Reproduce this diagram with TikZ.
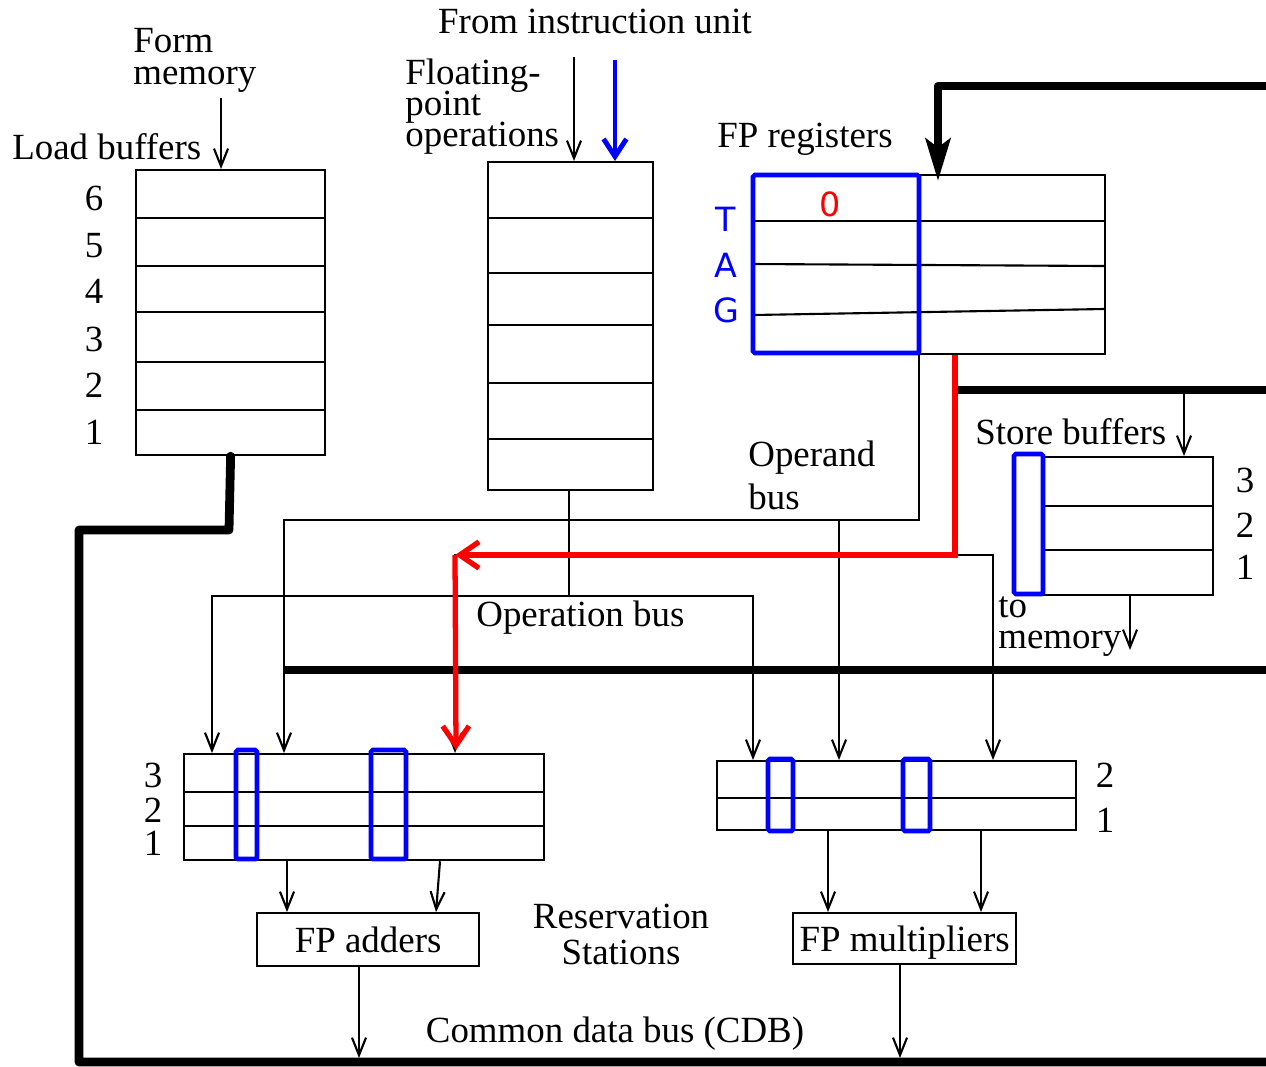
\documentclass[tikz,border=0pt]{standalone}
\usepackage{fontspec}
\setmainfont{Liberation Serif}
\newfontfamily\tagfont{DejaVu Sans}
\usetikzlibrary{arrows.meta}
\begin{document}
\begin{tikzpicture}[x=0.02cm,y=-0.02cm,
  lbl/.style={font=\fontsize{21}{21}\selectfont, inner sep=0pt},
  nodep/.style={text depth=0pt},
  tagl/.style={font=\tagfont\fontsize{19}{19}\selectfont, inner sep=0pt, text=blue},
  thinl/.style={line width=1.2pt},
  boxl/.style={draw, line width=1.3pt, inner sep=0pt, anchor=north west},
  busl/.style={line width=5pt, line join=round},
  arr/.style={thinl, -{Straight Barb[length=10pt,width=8pt]}},
  tagbox/.style={draw=blue, line width=2.6pt, rounded corners=1pt},
  redl/.style={draw=red, line width=3pt, -{Straight Barb[length=11pt,width=15pt]}},
]
\useasboundingbox (0,0) rectangle (1266,1066);

% ---------- boxes ----------
\node[boxl, minimum width=3.78cm, minimum height=5.7cm] (lb) at (135,169) {};
\foreach \y in {218,266,312,362,410} \draw[thinl] (135,\y) -- (324,\y);

\node[boxl, minimum width=3.3cm, minimum height=6.56cm] (iq) at (487,161) {};
\foreach \y in {218,273,325,383,439} \draw[thinl] (487,\y) -- (652,\y);

\node[boxl, minimum width=7.02cm, minimum height=3.58cm] (fpr) at (753,174) {};
\draw[thinl] (753,221) -- (1104,221);
\draw[thinl] (753,264) -- (1104,266);
\draw[thinl] (753,315) -- (1104,309);
\draw[tagbox] (753,175) rectangle (919,353);

\node[boxl, minimum width=3.38cm, minimum height=2.76cm] (sb) at (1043,456) {};
\foreach \y in {506,550} \draw[thinl] (1043,\y) -- (1212,\y);
\draw[tagbox] (1014,454) rectangle (1043,594);

\node[boxl, minimum width=7.2cm, minimum height=2.12cm] (ars) at (183,753) {};
\foreach \y in {792,826} \draw[thinl] (183,\y) -- (543,\y);
\draw[tagbox] (236,750) rectangle (257,859);
\draw[tagbox] (371,750) rectangle (406,859);

\node[boxl, minimum width=7.18cm, minimum height=1.38cm] (mrs) at (716,760) {};
\draw[thinl] (716,798) -- (1075,798);
\draw[tagbox] (768,759) rectangle (793,831);
\draw[tagbox] (903,759) rectangle (930,831);

\node[boxl, minimum width=4.44cm, minimum height=1.06cm, text depth=0pt, font=\fontsize{21}{21}\selectfont] (fpa) at (256,912) {FP adders};
\node[boxl, minimum width=4.46cm, minimum height=1.02cm, text depth=0pt, font=\fontsize{21}{21}\selectfont] (fpm) at (792,912) {FP multipliers};

% ---------- labels ----------
\node[lbl, anchor=base] (tfrom) at (595,33) {From instruction unit};
\node[lbl, nodep, anchor=base west] (tform1) at (133,52) {Form};
\node[lbl, anchor=base west] (tform2) at (133,84) {memory};
\node[lbl, anchor=base west] (tload) at (12,159) {Load buffers};
\foreach \d/\y in {6/210,5/257,4/303,3/351,2/397,1/444}
  \node[lbl, anchor=base] (lbn\d) at (94,\y) {\d};
\node[lbl, nodep, anchor=base west] (tfl1) at (405,84) {Floating-};
\node[lbl, nodep, anchor=base west] (tfl2) at (405,115) {point};
\node[lbl, anchor=base west] (tfl3) at (405,146) {operations};
\node[lbl, anchor=base west] (tfpr) at (717,147) {FP registers};
\node[tagl] (tT) at (726,219) {T};
\node[tagl] (tA) at (726,265) {A};
\node[tagl] (tG) at (726,310) {G};
\node[tagl, text=red] (tzero) at (830,204) {0};
\node[lbl, anchor=base west] (top1) at (748,466) {Operand};
\node[lbl, anchor=base west] (top2) at (748,509) {bus};
\node[lbl, anchor=base west] (tsb) at (975,444) {Store buffers};
\foreach \d/\y in {3/492,2/537,1/579}
  \node[lbl, anchor=base] (sbn\d) at (1245,\y) {\d};
\node[lbl, nodep, anchor=base west] (tto1) at (998,617) {to};
\node[lbl, anchor=base west] (tto2) at (998,648) {memory};
\node[lbl, anchor=base west] (topb) at (476,626) {Operation bus};
\foreach \d/\y in {3/787,2/822,1/855}
  \node[lbl, anchor=base] (arn\d) at (153,\y) {\d};
\foreach \d/\y in {2/787,1/832}
  \node[lbl, anchor=base] (mrn\d) at (1105,\y) {\d};
\node[lbl, anchor=base] (trs1) at (621,928) {Reservation};
\node[lbl, anchor=base] (trs2) at (621,964) {Stations};
\node[lbl, anchor=base] (tcdb) at (615,1042) {Common data bus (CDB)};

% ---------- thick buses ----------
\draw[busl, line cap=round] (lb.south) -- (229,530) -- (79,530) -- (79,1062) -- (1266,1062);
\draw[busl] (284,670) -- (1266,670);
\draw[busl] (957,390) -- (1266,390);
\draw[busl, -{Stealth[length=24pt,width=14pt,inset=5pt]}] (1266,86) -- (938,86) -- (938,181);

% ---------- thin connectors ----------
\draw[arr] (221,0 |- tform2.south) ++(0,6) -- (221,0 |- lb.north);
\draw[arr] (574,57) -- (574,0 |- iq.north);
\draw[draw=blue, line width=2.8pt, -{Straight Barb[length=10pt,width=13pt]}] (615,60) -- (615,0 |- iq.north);

\draw[arr] (1184,390) -- (1184,0 |- sb.north);
\draw[arr] (1130,0 |- sb.south) -- (1130,650);

% operation bus
\draw[thinl] (569,0 |- iq.south) -- (569,596);
\draw[arr] (569,596) -| (212,0 |- ars.north);
\draw[arr] (569,596) -| (753,0 |- mrs.north);

% operand bus
\draw[arr] (919,0 |- fpr.south) |- (284,520) -- (284,0 |- ars.north);
\draw[arr] (839,520) -- (839,0 |- mrs.north);
\draw[arr] (955,0 |- fpr.south) -- (955,555) -- (455,555) -- (455,0 |- ars.north);
\draw[arr] (955,555) -| (993,0 |- mrs.north);

% highlighted path
\draw[redl] (955,0 |- fpr.south) |- (455,555);
\draw[redl] (455,555) -- (456,750);

% to functional units
\draw[arr] (287,0 |- ars.south) -- (287,0 |- fpa.north);
\draw[arr] (440,0 |- ars.south) -- (436,0 |- fpa.north);
\draw[arr] (828,0 |- mrs.south) -- (828,0 |- fpm.north);
\draw[arr] (981,0 |- mrs.south) -- (981,0 |- fpm.north);

% to CDB
\draw[arr] (359,0 |- fpa.south) -- (359,1058);
\draw[arr] (900,0 |- fpm.south) -- (900,1058);
\end{tikzpicture}
\end{document}
